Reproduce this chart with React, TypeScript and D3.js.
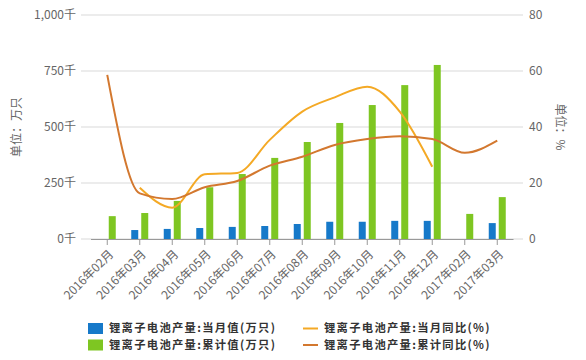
import React from 'react';
import * as d3 from 'd3';

const categories = ['2016年02月','2016年03月','2016年04月','2016年05月','2016年06月','2016年07月','2016年08月','2016年09月','2016年10月','2016年11月','2016年12月','2017年02月','2017年03月'];
const monthValue: (number | null)[] = [null, 40, 45, 49, 54, 58, 67, 77, 77, 81, 81, null, 71];
const cumValue: (number | null)[] = [102, 116, 170, 231, 290, 362, 433, 518, 598, 687, 777, 112, 187];
const monthYoY: (number | null)[] = [null, 18.3, 11.2, 23.1, 23.6, 35.4, 45.5, 50.6, 54.4, 45.5, 25.8, null, null];
const cumYoY: (number | null)[] = [58.6, 16.3, 14.3, 18.5, 20.7, 26.2, 29.4, 33.6, 35.7, 36.7, 35.7, 30.8, 35.1];
const leftTicks = [0, 250, 500, 750, 1000];
const rightTicks = [0, 20, 40, 60, 80];

const C_BLUE = '#1679c9';
const C_GREEN = '#7ec622';
const C_YEL = '#f4a925';
const C_ORG = '#d3782f';
const FONT = '"Noto Sans CJK SC", "Noto Sans", sans-serif';

export default function App() {
  const W = 586, H = 360;
  const x = d3.scaleBand<string>().domain(categories).range([91, 513.5]).padding(0);
  const sub = d3.scaleBand<string>().domain(['m', 'c']).range([-8.5, 8.5]).paddingInner(0.3);
  const yL = d3.scaleLinear().domain([0, 1000]).range([239, 15]);
  const yR = d3.scaleLinear().domain([0, 80]).range([239, 15]);
  const cx = (c: string) => (x(c) as number) + x.bandwidth() / 2;
  const fmt = d3.format(',');

  const line = d3.line<[string, number | null]>()
    .defined(d => d[1] != null)
    .x(d => cx(d[0]))
    .y(d => yR(d[1] as number))
    .curve(d3.curveMonotoneX);

  return (
    <svg width={W} height={H} style={{ position: 'absolute', left: 0, top: 0, background: '#fff' }} fontFamily={FONT}>
      {leftTicks.map(t => (
        <g key={'g' + t}>
          <line x1={81} x2={523} y1={yL(t)} y2={yL(t)} stroke="#d9d9d9" strokeWidth={1} />
          <text x={76} y={yL(t)} dy="0.35em" textAnchor="end" fontSize={12} fill="#666">{fmt(t)}千</text>
        </g>
      ))}
      {rightTicks.map(t => (
        <text key={'r' + t} x={529} y={yR(t)} dy="0.35em" textAnchor="start" fontSize={12} fill="#666">{t}</text>
      ))}
      <text transform="translate(17,127) rotate(-90)" textAnchor="middle" dy="0.35em" fontSize={12} fill="#666">单位：万只</text>
      <text transform="translate(560,127) rotate(90)" textAnchor="middle" dy="0.35em" fontSize={12} fill="#666">单位：%</text>

      {categories.map((c, i) => (
        <g key={'b' + c}>
          {monthValue[i] != null && (
            <rect x={cx(c) + (sub('m') as number)} width={sub.bandwidth()} y={yL(monthValue[i] as number)} height={239 - yL(monthValue[i] as number)} fill={C_BLUE} />
          )}
          {cumValue[i] != null && (
            <rect x={cx(c) + (sub('c') as number)} width={sub.bandwidth()} y={yL(cumValue[i] as number)} height={239 - yL(cumValue[i] as number)} fill={C_GREEN} />
          )}
        </g>
      ))}

      <line x1={91} x2={513.5} y1={239.5} y2={239.5} stroke="#999" strokeWidth={1} />
      {categories.map(c => (
        <g key={'t' + c}>
          <line x1={cx(c)} x2={cx(c)} y1={239.5} y2={245} stroke="#999" strokeWidth={1} />
          <text transform={`translate(${cx(c) + 4},${252}) rotate(-45)`} textAnchor="end" dy="0.35em" fontSize={12} fill="#666">{c}</text>
        </g>
      ))}

      <path d={line(categories.map((c, i) => [c, monthYoY[i]] as [string, number | null])) || ''} fill="none" stroke={C_YEL} strokeWidth={2} />
      <path d={line(categories.map((c, i) => [c, cumYoY[i]] as [string, number | null])) || ''} fill="none" stroke={C_ORG} strokeWidth={2} />

      <g fontSize={11.3} fontWeight="bold" fill="#333" letterSpacing={1.3}>
        <rect x={88} y={323} width={15} height={11} fill={C_BLUE} />
        <text x={109} y={328.5} dy="0.35em">锂离子电池产量:当月值(万只)</text>
        <rect x={88} y={339.5} width={15} height={11} fill={C_GREEN} />
        <text x={109} y={345} dy="0.35em">锂离子电池产量:累计值(万只)</text>
        <line x1={303} x2={318} y1={328.5} y2={328.5} stroke={C_YEL} strokeWidth={2} />
        <text x={324} y={328.5} dy="0.35em">锂离子电池产量:当月同比(%)</text>
        <line x1={303} x2={318} y1={345} y2={345} stroke={C_ORG} strokeWidth={2} />
        <text x={324} y={345} dy="0.35em">锂离子电池产量:累计同比(%)</text>
      </g>
    </svg>
  );
}
